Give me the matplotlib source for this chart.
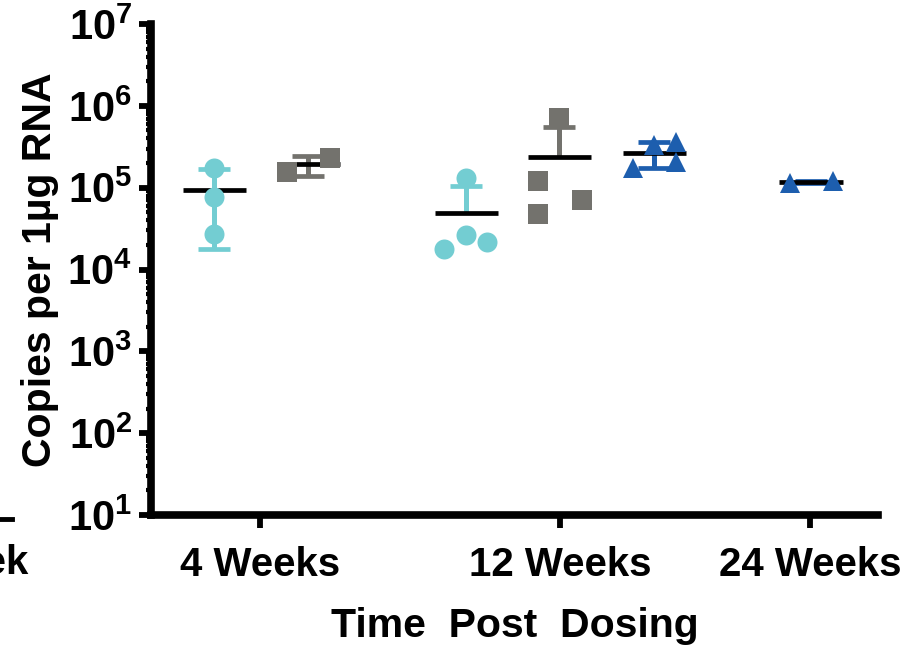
import numpy as np
import matplotlib
matplotlib.use("Agg")
import matplotlib.pyplot as plt
from matplotlib.ticker import LogLocator, FixedLocator, NullFormatter, FuncFormatter

plt.rcParams['font.family'] = ['Liberation Sans', 'DejaVu Sans']
plt.rcParams['font.weight'] = 'bold'
plt.rcParams['mathtext.fontset'] = 'custom'
plt.rcParams['mathtext.rm'] = 'Liberation Sans:bold'
plt.rcParams['mathtext.bf'] = 'Liberation Sans:bold'
plt.rcParams['mathtext.it'] = 'Liberation Sans:bold'

# ---- data (copies per 1 ug RNA) ----
categories = ["4 Weeks", "12 Weeks", "24 Weeks"]
cyan_4wk = [1.74e5, 7.7e4, 2.7e4]
gray_4wk = [1.55e5, 2.3e5]
cyan_12wk = [1.31e5, 1.78e4, 2.63e4, 2.16e4]
gray_12wk = [7.1e5, 1.21e5, 4.75e4, 7.05e4]
blue_12wk = [1.74e5, 3.32e5, 3.6e5, 2.06e5]
blue_24wk = [1.14e5, 1.2e5]

CYAN = "#73CDD2"
GRAY = "#73726D"
BLUE = "#1D5EAE"

# ---- layout (x in axis units, 1 unit = 100 px) ----
tick_pos = [1.09, 4.09, 6.59]
columns = [
    # values, centre, jitter, colour, marker, size
    (cyan_4wk, 0.63, [0, 0, 0], CYAN, "o", 14.4),
    (gray_4wk, 1.57, [-0.21, 0.22], GRAY, "s", 15),
    (cyan_12wk, 3.15, [0, -0.22, 0, 0.21], CYAN, "o", 14.4),
    (gray_12wk, 4.08, [0, -0.21, -0.21, 0.23], GRAY, "s", 15),
    (blue_12wk, 5.03, [-0.21, 0, 0.22, 0.22], BLUE, "^", 14.5),
    (blue_24wk, 6.60, [-0.21, 0.22], BLUE, "^", 14.5),
]

fig = plt.figure(figsize=(9.04, 6.49), dpi=100)
ax = fig.add_axes([151 / 904, 1 - 515 / 649, (878 - 151) / 904, (515 - 24) / 649])

for vals, cx, jit, col, mk, ms in columns:
    v = np.array(vals)
    m = v.mean()
    sd = v.std(ddof=1)
    hi, lo = m + sd, m - sd
    cap = 0.16
    # error bar (mean +/- SD), lower arm dropped if it goes below zero
    bottom = lo if lo > 0 else m
    ax.plot([cx, cx], [bottom, hi], color=col, lw=3.6, solid_capstyle="butt", zorder=2)
    ax.plot([cx - cap, cx + cap], [hi, hi], color=col, lw=3.4, solid_capstyle="butt", zorder=2)
    if lo > 0:
        ax.plot([cx - cap, cx + cap], [lo, lo], color=col, lw=3.4, solid_capstyle="butt", zorder=2)
    # mean line
    ax.plot([cx - 0.315, cx + 0.315], [m, m], color="black", lw=3.4, solid_capstyle="butt", zorder=3)
    # points
    ax.plot(cx + np.array(jit), v, linestyle="none", marker=mk, markersize=ms,
            color=col, markeredgewidth=0, zorder=4)

ax.set_yscale("log")
ax.set_ylim(10, 1e7)
ax.set_xlim(0, 7.27)

ax.yaxis.set_major_locator(LogLocator(base=10, numticks=10))
ax.yaxis.set_minor_locator(LogLocator(base=10, subs=np.arange(2, 10), numticks=20))
ax.yaxis.set_minor_formatter(NullFormatter())
ax.yaxis.set_major_formatter(FuncFormatter(lambda y, p: r"$\mathrm{10^{%d}}$" % round(np.log10(y))))

ax.xaxis.set_major_locator(FixedLocator(tick_pos))
ax.set_xticklabels(categories)

for s in ["top", "right"]:
    ax.spines[s].set_visible(False)
for s in ["left", "bottom"]:
    ax.spines[s].set_linewidth(5.5)

ax.tick_params(axis="y", which="major", direction="out", length=8.5, width=4.2, pad=5, labelsize=30)
ax.tick_params(axis="y", which="minor", direction="out", length=3.6, width=3.0)
ax.tick_params(axis="x", which="major", direction="out", length=9, width=4.2, pad=13, labelsize=29)

ax.set_ylabel("Copies per 1µg RNA", fontsize=29.5, fontweight="bold", labelpad=6)
ax.set_xlabel("Time  Post  Dosing", fontsize=29.5, fontweight="bold", labelpad=17)

# remnants of the neighbouring panel at the left edge
fig.text(29 / 904, 1 - 563 / 649, "Week", fontsize=29, fontweight="bold", ha="right", va="center")
fig.add_artist(plt.Line2D([0, 12 / 904], [1 - 519 / 649, 1 - 519 / 649], color="black", lw=3.5,
                          transform=fig.transFigure))

fig.savefig("out.png", dpi=100)
